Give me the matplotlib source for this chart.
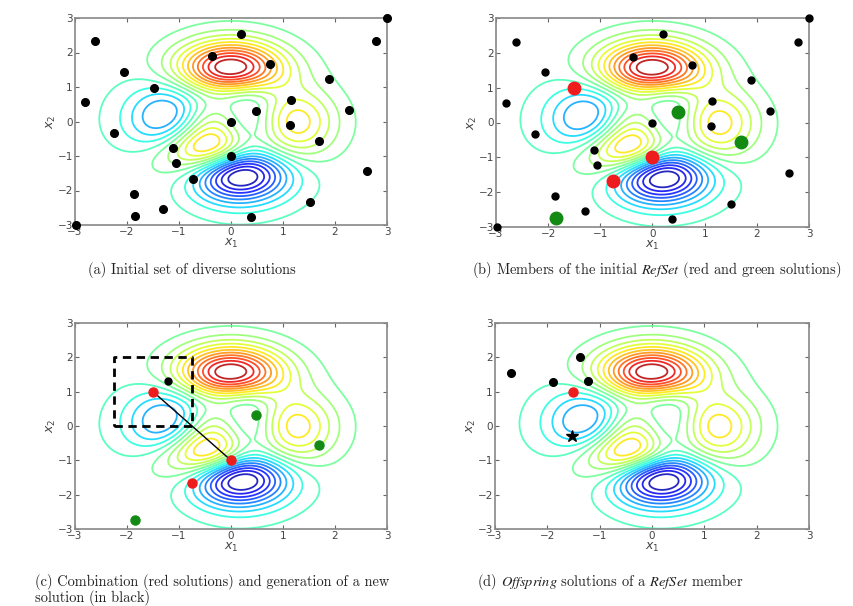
import numpy as np
import matplotlib
matplotlib.use("Agg")
from matplotlib import pyplot as plt

# --- data ---
# (a) initial set of diverse solutions
pop_x = [3.00, -2.61, 0.20, -0.37, 0.75, 2.79, -2.06, -1.49, 1.88, -2.81, 1.15, 0.48, 2.26, 0.00,
         1.13, -2.25, 1.69, -1.12, 0.00, -1.06, -0.74, 2.62, -1.86, 1.51, -1.30, -1.85, 0.38, -2.98]
pop_y = [3.00, 2.32, 2.55, 1.89, 1.66, 2.32, 1.44, 0.98, 1.22, 0.56, 0.62, 0.31, 0.33, -0.01,
         -0.11, -0.34, -0.56, -0.78, -0.99, -1.21, -1.67, -1.44, -2.10, -2.33, -2.55, -2.73, -2.78, -3.00]

# (b) RefSet members
red_x = [-1.50, 0.00, -0.75]
red_y = [1.00, -1.00, -1.67]
green_x = [0.48, 1.69, -1.85]
green_y = [0.31, -0.56, -2.73]

# (c) combination of two red solutions -> new black solution
comb_x = [-1.50, 0.00]
comb_y = [1.00, -1.00]
new_x = [-1.22]
new_y = [1.32]
box_x = [-2.25, -0.75, -0.75, -2.25, -2.25]
box_y = [0.00, 0.00, 2.00, 2.00, 0.00]

# (d) offspring of one RefSet member
parent_x = [-1.50]
parent_y = [0.99]
off_x = [-2.69, -1.90, -1.37, -1.22]
off_y = [1.53, 1.28, 2.01, 1.31]
star_x = [-1.53]
star_y = [-0.30]

captions = ["(a) Initial set of diverse solutions",
            r"(b) Members of the initial $\mathit{RefSet}$ (red and green solutions)",
            "(c) Combination (red solutions) and generation of a new\nsolution (in black)",
            r"(d) $\mathit{Offspring}$ solutions of a $\mathit{RefSet}$ member"]


# MATLAB peaks surface used as the objective
def peaks(x, y):
    return (3 * (1 - x) ** 2 * np.exp(-x ** 2 - (y + 1) ** 2)
            - 10 * (x / 5 - x ** 3 - y ** 5) * np.exp(-x ** 2 - y ** 2)
            - 1 / 3 * np.exp(-(x + 1) ** 2 - y ** 2))


g = np.linspace(-3, 3, 300)
X, Y = np.meshgrid(g, g)
Z = peaks(X, Y)
zmin, zmax = Z.min(), Z.max()
levels = np.linspace(zmin, zmax, 22)[1:-1]

fig = plt.figure(figsize=(8.54, 6.06), dpi=100)
W, H = 854.0, 606.0


def make_ax(l, r, t, b):
    ax = fig.add_axes([l / W, 1 - b / H, (r - l) / W, (b - t) / H])
    ax.contour(X, Y, Z, levels=levels, cmap="jet", vmin=zmin, vmax=zmax,
               linewidths=1.3, alpha=0.85)
    ax.set_xlim(-3, 3)
    ax.set_ylim(-3, 3)
    ax.set_xticks(range(-3, 4))
    ax.set_yticks(range(-3, 4))
    ax.tick_params(direction="in", top=True, right=True, length=3, labelsize=7.5,
                   colors="#666666", labelcolor="#444444", pad=1.5)
    for s in ax.spines.values():
        s.set_color("#888888")
        s.set_linewidth(1.2)
    ax.set_xlabel("$x_1$", fontsize=9, color="#444444", labelpad=0)
    ax.set_ylabel("$x_2$", fontsize=9, color="#444444", labelpad=0)
    return ax


red = "#ee1c1c"
green = "#138a13"

# (a)
ax = make_ax(75, 387, 18, 225)
ax.plot(pop_x, pop_y, "o", color="black", ms=5.5, clip_on=False, zorder=5)

# (b)
ax = make_ax(496, 809, 18, 227)
ax.plot(pop_x, pop_y, "o", color="black", ms=5, clip_on=False, zorder=5)
ax.plot(red_x, red_y, "o", color=red, ms=9, zorder=6)
ax.plot(green_x, green_y, "o", color=green, ms=9, zorder=6)

# (c)
ax = make_ax(75, 387, 323, 529)
ax.plot(box_x, box_y, "--", color="black", lw=2, dashes=(3, 2))
ax.plot(comb_x, comb_y, "-", color="black", lw=1)
ax.plot(red_x, red_y, "o", color=red, ms=6.5, zorder=6)
ax.plot(green_x, green_y, "o", color=green, ms=6.5, zorder=6)
ax.plot(new_x, new_y, "o", color="black", ms=5, zorder=6)

# (d)
ax = make_ax(495, 809, 323, 529)
ax.plot(off_x, off_y, "o", color="black", ms=5.5, zorder=6)
ax.plot(parent_x, parent_y, "o", color=red, ms=6.5, zorder=6)
ax.plot(star_x, star_y, "*", color="black", ms=9, zorder=6)

cap_kw = dict(fontsize=10.4, family="cmr10", math_fontfamily="stix", color="#222222")
fig.text(192 / W, 1 - 270 / H, captions[0], ha="center", va="center", **cap_kw)
fig.text(657 / W, 1 - 270 / H, captions[1], ha="center", va="center", **cap_kw)
fig.text(35 / W, 1 - 574 / H, captions[2], ha="left", va="top", linespacing=1.0, **cap_kw)
fig.text(477 / W, 1 - 582 / H, captions[3], ha="left", va="center", **cap_kw)

fig.savefig("out.png", dpi=100)
